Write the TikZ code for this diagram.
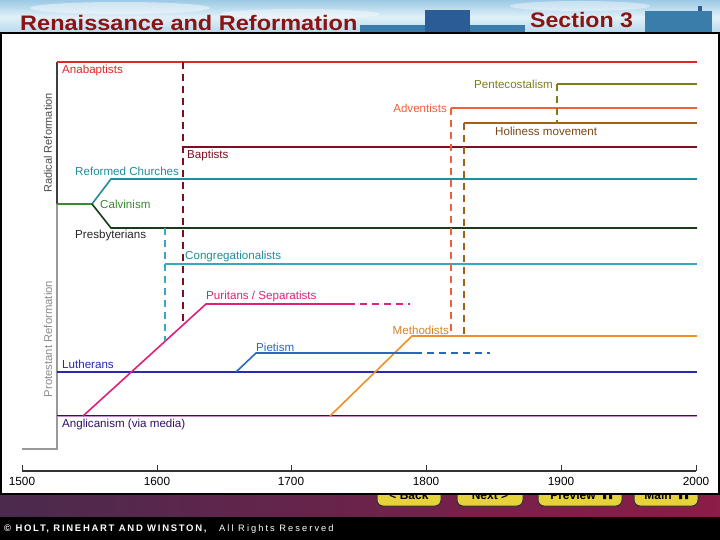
\documentclass[tikz,border=0pt]{standalone}
\usepackage{fontspec}
\setmainfont{Liberation Sans}
\definecolor{skyA}{HTML}{9CCAE6}
\definecolor{skyB}{HTML}{E0F0F8}
\definecolor{skyC}{HTML}{B4D8EC}
\definecolor{bldA}{HTML}{2C5C96}
\definecolor{bldB}{HTML}{3A7CAA}
\definecolor{titlered}{HTML}{8A1414}
\definecolor{footL}{HTML}{4A2A4E}
\definecolor{footR}{HTML}{8C1C48}
\definecolor{btn}{HTML}{E6D23A}
\definecolor{anab}{HTML}{E02828}
\definecolor{pent}{HTML}{7E7E18}
\definecolor{adv}{HTML}{F0603A}
\definecolor{holi}{HTML}{A06020}
\definecolor{bapt}{HTML}{7A1020}
\definecolor{refc}{HTML}{208C9C}
\definecolor{calv}{HTML}{3A8A30}
\definecolor{presb}{HTML}{1A3A1A}
\definecolor{cong}{HTML}{38A8C0}
\definecolor{puri}{HTML}{E0207A}
\definecolor{meth}{HTML}{F09028}
\definecolor{piet}{HTML}{2868C0}
\definecolor{luth}{HTML}{2828B0}
\definecolor{angl}{HTML}{30106A}
\definecolor{axisg}{HTML}{333333}
\usetikzlibrary{calc}
\begin{document}
\begin{tikzpicture}[x=1pt,y=-1pt,
  lbl/.style={inner sep=0pt, font=\fontsize{11.6}{13}\selectfont},
  era/.style={line width=1.6pt},
  dsh/.style={line width=1.6pt, dash pattern=on 7pt off 5pt},
  btnbox/.style={fill=btn, draw=black!80, line width=1pt, rounded corners=6pt},
  btntxt/.style={inner sep=0pt, anchor=base, font=\fontsize{12}{14}\selectfont\bfseries},
  yearlbl/.style={inner sep=0pt, font=\fontsize{11.8}{13}\selectfont},
  foot/.style={inner sep=0pt, anchor=base west, text=white}
]
\useasboundingbox (0,0) rectangle (720,540);
% ---------- header ----------
\shade[top color=skyA, bottom color=skyC, middle color=skyB] (0,0) rectangle (720,34);
\fill[white, opacity=0.45] (120,8) ellipse (90 and 6);
\fill[white, opacity=0.4] (300,14) ellipse (80 and 5);
\fill[white, opacity=0.4] (580,6) ellipse (70 and 5);
\fill[bldB] (360,25) rectangle (525,34);
\fill[bldA] (425,10) rectangle (470,34);
\fill[bldB] (645,11) rectangle (712,34);
\fill[bldA] (698,6) rectangle (702,11);
\node[anchor=base west, inner sep=0pt, text=titlered, xscale=1.12,
      font=\fontsize{21}{24}\selectfont\bfseries] (title) at (20,30.5) {Renaissance and Reformation};
\node[anchor=base west, inner sep=0pt, text=titlered, xscale=1.1,
      font=\fontsize{21}{24}\selectfont\bfseries] (section) at (530,28) {Section 3};
% ---------- footer ----------
\shade[left color=footL, right color=footR] (0,494) rectangle (720,517);
\fill[black] (0,517) rectangle (720,540);
\node[foot, font=\fontsize{9.5}{11}\selectfont\bfseries\addfontfeature{LetterSpace=18}] (copy) at (4,531.5)
  {© HOLT, RINEHART AND WINSTON,};
\node[foot, font=\fontsize{9.3}{11}\selectfont\addfontfeature{LetterSpace=22}] (rights) at (219,531.5)
  {All Rights Reserved};
\draw[btnbox] (377,482) rectangle (441,506);
\draw[btnbox] (457,482) rectangle (523,506);
\draw[btnbox] (538,482) rectangle (622,506);
\draw[btnbox] (634,482) rectangle (698,506);
\node[btntxt] (bback) at (409,499) {< Back};
\node[btntxt] (bnext) at (490,499) {Next >};
\node[btntxt] (bprev) at (573,499) {Preview};
\fill[black] (603,489) rectangle (606,499) (609,489) rectangle (612,499);
\node[btntxt] (bmain) at (658,499) {Main};
\fill[black] (679,489) rectangle (682,499) (685,489) rectangle (688,499);
% ---------- panel ----------
\filldraw[fill=white, draw=black, line width=2pt] (1,33) rectangle (719,494);
% ---------- axis ----------
\coordinate (ax0) at (22,471);
\coordinate (ax1) at (696,471);
\draw[line width=1.5pt, axisg] (ax0) -- (ax1);
\foreach \xx/\yr in {22/1500,157/1600,291/1700,426/1800,561/1900,696/2000}{
  \draw[line width=1pt, axisg] (\xx,471) -- (\xx,465);
  \node[yearlbl] (y\yr) at (\xx,481) {\yr};
}
% ---------- left bracket ----------
\coordinate (rtop) at (57,62);
\coordinate (rmid) at (57,204);
\coordinate (pbot) at (57,449);
\coordinate (pleft) at (22,449);
\draw[line width=2pt, black!75] (rtop) -- (rmid);
\draw[line width=2pt, black!40] (rmid) -- (pbot) -- (pleft);
\node[lbl, rotate=90, text=black!70, font=\fontsize{11}{13}\selectfont] (radical) at (48,143) {Radical Reformation};
\node[lbl, rotate=90, text=black!45, font=\fontsize{11.3}{13}\selectfont] (protestant) at (48,339) {Protestant Reformation};
% ---------- coordinates ----------
\coordinate (anaS) at (57,62);   \coordinate (anaE) at (697,62);
\coordinate (penS) at (557,84);  \coordinate (penE) at (697,84);
\coordinate (advS) at (451,108); \coordinate (advE) at (697,108);
\coordinate (holS) at (464,123); \coordinate (holE) at (697,123);
\coordinate (bapS) at (183,147); \coordinate (bapE) at (697,147);
\coordinate (calS) at (57,204);  \coordinate (fork) at (92,204);
\coordinate (refA) at (111,179); \coordinate (refE) at (697,179);
\coordinate (preA) at (111,228); \coordinate (preE) at (697,228);
\coordinate (conS) at (165,264); \coordinate (conE) at (697,264);
\coordinate (conD) at (165,341); \coordinate (conT) at (165,228);
\coordinate (purS) at (83,416);  \coordinate (purA) at (206,304);
\coordinate (purB) at (348,304); \coordinate (purE) at (410,304);
\coordinate (bapD) at (183,324);
\coordinate (metS) at (330,416); \coordinate (metA) at (412,336); \coordinate (metE) at (697,336);
\coordinate (advD) at (451,336); \coordinate (holD) at (464,336);
\coordinate (pieS) at (236,372); \coordinate (pieA) at (256,353);
\coordinate (pieB) at (415,353); \coordinate (pieE) at (490,353);
\coordinate (lutS) at (57,372);  \coordinate (lutE) at (697,372);
\coordinate (angS) at (57,416);  \coordinate (angE) at (697,416);
% ---------- lines ----------
\draw[line width=0.9pt, violet!45] ($(angS)+(0,0.9)$) -- ($(angE)+(0,0.9)$);
\draw[line width=1.3pt, angl] ($(angS)+(0,-0.3)$) -- ($(angE)+(0,-0.3)$);
\draw[era, luth] (lutS) -- (lutE);
\draw[era, anab] (anaS) -- (anaE);
\draw[era, pent] (penS) -- (penE);
\draw[era, adv] (advS) -- (advE);
\draw[era, holi] (holS) -- (holE);
\draw[era, bapt] (bapS) -- (bapE);
\draw[era, calv] (calS) -- (fork);
\draw[era, refc] (fork) -- (refA) -- (refE);
\draw[era, presb] (fork) -- (preA) -- (preE);
\draw[era, cong] (conS) -- (conE);
\draw[era, puri] (purS) -- (purA) -- (purB);
\draw[dsh, puri] (purB) -- (purE);
\draw[era, meth] (metS) -- (metA) -- (metE);
\draw[era, piet] (pieS) -- (pieA) -- (pieB);
\draw[dsh, piet] (pieB) -- (pieE);
% dashed verticals
\draw[dsh, bapt] (anaS -| bapS) -- (bapD);
\draw[dsh, cong] (conT) -- (conD);
\draw[dsh, adv] (advS) -- (advD);
\draw[dsh, holi] (holS) -- (holD);
\draw[dsh, pent] (penS) -- (penS |- holS);
% ---------- labels ----------
\node[lbl, anchor=west, text=anab] (lAna) at (62,71) {Anabaptists};
\node[lbl, anchor=east, text=pent] (lPen) at (553,84) {Pentecostalism};
\node[lbl, anchor=east, text=adv] (lAdv) at (447,108) {Adventists};
\node[lbl, anchor=west, text=holi!75!black] (lHol) at (495,131) {Holiness movement};
\node[lbl, anchor=west, text=bapt] (lBap) at (187,156) {Baptists};
\node[lbl, anchor=west, text=refc] (lRef) at (75,171) {Reformed Churches};
\node[lbl, anchor=west, text=calv] (lCal) at (100,204) {Calvinism};
\node[lbl, anchor=west, text=black!85] (lPre) at (75,236) {Presbyterians};
\node[lbl, anchor=west, text=refc] (lCon) at (185,257) {Congregationalists};
\node[lbl, anchor=west, text=puri] (lPur) at (206,296) {Puritans / Separatists};
\node[lbl, anchor=east, text=meth!90!black] (lMet) at (449,330) {Methodists};
\node[lbl, anchor=west, text=piet] (lPie) at (256,347) {Pietism};
\node[lbl, anchor=west, text=luth] (lLut) at (62,364) {Lutherans};
\node[lbl, anchor=west, text=angl] (lAng) at (62,424) {Anglicanism (via media)};
\end{tikzpicture}
\end{document}
